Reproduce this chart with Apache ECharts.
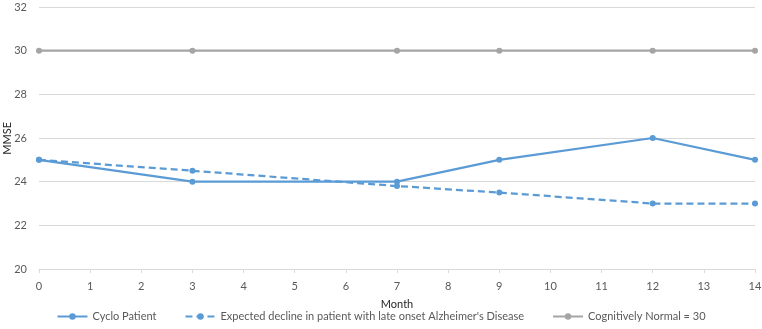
<!DOCTYPE html>
<html><head><meta charset="utf-8">
<script src="https://cdn.jsdelivr.net/npm/echarts@6/dist/echarts.min.js"></script>
<style>html,body{margin:0;padding:0;background:#fff}#c{width:762px;height:329px}</style>
</head><body><div id="c"></div>
<script>
var months = [0, 3, 7, 9, 12, 14];
var cyclo = [25, 24, 24, 25, 26, 25];
var expected = [25, 24.5, 23.8, 23.5, 23, 23];
var normal = [30, 30, 30, 30, 30, 30];
var seriesNames = ["Cyclo Patient", "Expected decline in patient with late onset Alzheimer's Disease", "Cognitively Normal = 30"];
var yTitle = "MMSE";
var xTitle = "Month";

function pairs(xs, ys){ return xs.map(function(x,i){ return [x, ys[i]]; }); }

var font = "Lato, 'Liberation Sans', sans-serif";
var chart = echarts.init(document.getElementById('c'), null, {renderer:'canvas'});
chart.setOption({
  animation:false,
  textStyle:{fontFamily:font},
  grid:{left:39, right:7, top:7, bottom:60, containLabel:false, outerBoundsMode:'none'},
  graphic:[{type:'text', left:2, top:122, rotation:Math.PI/2,
    style:{text:yTitle, fill:'#262626', font:'11px ' + font}}],
  xAxis:{type:'value', min:0, max:14, interval:1,
    name:xTitle, nameLocation:'middle', nameGap:30,
    nameTextStyle:{color:'#262626', fontSize:11, fontFamily:font},
    axisLine:{show:true, lineStyle:{color:'#d9d9d9'}},
    axisTick:{show:true, length:4, lineStyle:{color:'#d9d9d9'}},
    axisLabel:{color:'#595959', fontSize:11, margin:12},
    splitLine:{show:false}},
  yAxis:{type:'value', min:20, max:32, interval:2,
    axisLine:{show:false}, axisTick:{show:false},
    axisLabel:{color:'#595959', fontSize:11, margin:12},
    splitLine:{lineStyle:{color:'#d9d9d9', width:1}}},
  legend:{bottom:2, left:'center', itemWidth:30, itemHeight:8, itemGap:28,
    textStyle:{color:'#595959', fontSize:11, fontFamily:font},
    data:seriesNames},
  series:[
    {name:seriesNames[0], type:'line', data:pairs(months, cyclo), symbol:'circle', symbolSize:6,
     lineStyle:{color:'#5b9bd5', width:2.25}, itemStyle:{color:'#5b9bd5'}},
    {name:seriesNames[1], type:'line', data:pairs(months, expected), symbol:'circle', symbolSize:6,
     lineStyle:{color:'#5b9bd5', width:2.25, type:[7,4]}, itemStyle:{color:'#5b9bd5'}},
    {name:seriesNames[2], type:'line', data:pairs(months, normal), symbol:'circle', symbolSize:6,
     lineStyle:{color:'#a5a5a5', width:2.25}, itemStyle:{color:'#a5a5a5'}}
  ]
});
</script></body></html>
